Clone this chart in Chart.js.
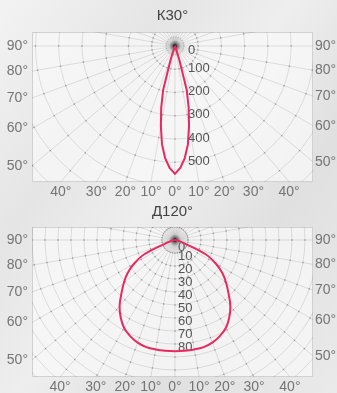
<!DOCTYPE html>
<html><head><meta charset="utf-8">
<script src="https://cdn.jsdelivr.net/npm/chart.js@4/dist/chart.umd.min.js"></script>
<style>
html,body{margin:0;padding:0;}
body{width:337px;height:393px;overflow:hidden;position:relative;
background:linear-gradient(125deg,#f3f3f3 0%,#e5e5e5 28%,#eeeeee 48%,#e0e0e0 70%,#eaeaea 100%);}
.box{position:absolute;left:0;width:337px;}
#b1{top:0;height:200px;}
#b2{top:196px;height:197px;}
canvas{display:block;}
</style></head><body>
<div class="box" id="b1"><canvas id="c1" width="337" height="200"></canvas></div>
<div class="box" id="b2"><canvas id="c2" width="337" height="197"></canvas></div>
<script>
// ---- data ----
const k30Title = 'К30°';
const k30Angles = [0, 2.5, 5, 7.5, 10, 12.5, 15, 17.5, 20, 22.5, 25, 30, 40, 50, 60, 70, 80, 90];
const k30Values = [550, 525, 484, 427, 349, 273, 196, 60, 12, 5, 3, 2, 1, 1, 0, 0, 0, 0];
const k30RingLabels = [0, 100, 200, 300, 400, 500];

const d120Title = 'Д120°';
const d120Angles = [0, 5, 10, 15, 20, 25, 30, 35, 40, 45, 50, 55, 60, 65, 70, 75, 80, 85, 90];
const d120Values = [85.5, 85.5, 85.5, 85.3, 84, 81.6, 78.2, 72.8, 66.3, 58.3, 51.4, 44.6, 36.2, 26, 8, 3, 1, 0.5, 0];
const d120RingLabels = [0, 10, 20, 30, 40, 50, 60, 70, 80];

const sideAngles = [90, 80, 70, 60, 50];
const bottomAngles = [-40, -30, -20, -10, 0, 10, 20, 30, 40];

const FONT = '"Liberation Sans", Arial, sans-serif';
const rad = d => d * Math.PI / 180;

const polarGrid = {
  id: 'polarGrid',
  beforeDatasetsDraw(chart, args, o) {
    const {ctx, chartArea: a, scales: {x, y}} = chart;
    const cx = x.getPixelForValue(0), cy = y.getPixelForValue(0);
    const kx = Math.abs(x.getPixelForValue(1) - cx), ky = Math.abs(y.getPixelForValue(1) - cy);
    ctx.save();
    ctx.fillStyle = 'rgba(250,250,250,0.72)';
    ctx.fillRect(a.left, a.top, a.right - a.left, a.bottom - a.top);
    ctx.strokeStyle = 'rgba(200,200,200,0.8)'; ctx.lineWidth = 1;
    ctx.strokeRect(a.left + 0.5, a.top + 0.5, a.right - a.left - 1, a.bottom - a.top - 1);
    ctx.beginPath(); ctx.rect(a.left, a.top, a.right - a.left, a.bottom - a.top); ctx.clip();
    ctx.strokeStyle = 'rgba(120,120,120,0.26)'; ctx.lineWidth = 0.8;
    for (let v = o.ringStep; v <= o.ringMax; v += o.ringStep) {
      ctx.beginPath(); ctx.ellipse(cx, cy, v * kx, v * ky, 0, 0, Math.PI * 2); ctx.stroke();
    }
    for (let d = 0; d < 360; d += o.rayStep) {
      const t = rad(d);
      ctx.beginPath(); ctx.moveTo(cx, cy);
      ctx.lineTo(cx + Math.sin(t) * 1000, cy + Math.cos(t) * 1000); ctx.stroke();
    }
    ctx.fillStyle = 'rgba(70,70,70,0.38)';
    for (let v = o.ringStep; v <= o.ringMax; v += o.ringStep) {
      for (let d = 0; d < 360; d += o.rayStep) {
        const t = rad(d);
        ctx.fillRect(cx + Math.sin(t) * v * kx - 0.7, cy + Math.cos(t) * v * ky - 0.7, 1.4, 1.4);
      }
    }
    // center decoration
    ctx.fillStyle = 'rgba(245,245,245,0.6)';
    ctx.beginPath(); ctx.arc(cx, cy, o.hub, 0, Math.PI * 2); ctx.fill();
    ctx.strokeStyle = 'rgba(120,120,120,0.28)'; ctx.lineWidth = 0.6;
    for (let d = 0; d < 360; d += 5) {
      const t = rad(d);
      ctx.beginPath(); ctx.moveTo(cx, cy); ctx.lineTo(cx + Math.sin(t) * o.hub, cy + Math.cos(t) * o.hub); ctx.stroke();
    }
    ctx.setLineDash([1, 1.5]); ctx.strokeStyle = 'rgba(100,100,100,0.55)'; ctx.lineWidth = 1;
    ctx.beginPath(); ctx.arc(cx, cy, o.hub, 0, Math.PI * 2); ctx.stroke();
    ctx.setLineDash([]);
    const g = ctx.createRadialGradient(cx, cy, 0, cx, cy, 6);
    g.addColorStop(0, 'rgba(0,0,0,0.6)'); g.addColorStop(1, 'rgba(0,0,0,0)');
    ctx.fillStyle = g; ctx.beginPath(); ctx.arc(cx, cy, 6, 0, Math.PI * 2); ctx.fill();
    ctx.fillStyle = '#1e1e1e'; ctx.beginPath(); ctx.arc(cx, cy, 1.8, 0, Math.PI * 2); ctx.fill();
    // intensity labels
    ctx.fillStyle = '#555'; ctx.font = '13px ' + FONT;
    ctx.textAlign = 'left'; ctx.textBaseline = 'middle';
    o.labels.forEach(v => {
      const yy = v === 0 ? cy + o.zeroDy : cy + v * ky + o.labelDy;
      ctx.fillText(String(v), cx + o.labelDx, yy);
    });
    ctx.restore();
  }
};

function curvePoints(angles, values) {
  const pts = [];
  for (let i = angles.length - 1; i >= 1; i--) {
    const t = rad(-angles[i]);
    pts.push({x: values[i] * Math.sin(t), y: -values[i] * Math.cos(t)});
  }
  for (let i = 0; i < angles.length; i++) {
    const t = rad(angles[i]);
    pts.push({x: values[i] * Math.sin(t), y: -values[i] * Math.cos(t)});
  }
  return pts;
}

function makeChart(id, title, angles, values, rng, grid, tension, titlePad) {
  const tickFont = {family: FONT, size: 14};
  const tickColor = '#747474';
  const sideTicks = (dist) => (s) => {
    s.ticks = sideAngles.map(a => ({value: -dist * Math.cos(rad(a)) / Math.sin(rad(a))}));
  };
  return new Chart(document.getElementById(id), {
    type: 'scatter',
    data: {datasets: [{
      data: curvePoints(angles, values), showLine: true, borderColor: '#e8285f', borderWidth: 2,
      pointRadius: 0, fill: false, tension: tension, xAxisID: 'x', yAxisID: 'y'
    }]},
    options: {
      responsive: false, animation: false, devicePixelRatio: 1,
      layout: {padding: 0},
      plugins: {
        legend: {display: false}, tooltip: {enabled: false},
        title: {display: true, text: title, fullSize: false, color: '#444',
          font: {family: FONT, size: 15, weight: 'normal'}, padding: titlePad},
        polarGrid: grid
      },
      scales: {
        x: {type: 'linear', position: 'bottom', min: rng.xMin, max: rng.xMax,
          grid: {display: false, drawTicks: false}, border: {display: false},
          afterBuildTicks: (s) => { s.ticks = bottomAngles.map(a => ({value: -rng.yMin * Math.tan(rad(a))})); },
          afterFit: (s) => { s.height = rng.xAxisH; },
          ticks: {autoSkip: false, maxRotation: 0, padding: 2, font: tickFont, color: tickColor,
            callback: (v, i) => Math.abs(bottomAngles[i]) + '°'}},
        y: {type: 'linear', position: 'left', min: rng.yMin, max: rng.yMax,
          grid: {display: false, drawTicks: false}, border: {display: false},
          afterBuildTicks: sideTicks(-rng.xMin),
          afterFit: (s) => { s.width = 32; },
          ticks: {autoSkip: false, padding: 4, font: tickFont, color: tickColor,
            callback: (v, i) => sideAngles[i] + '°'}},
        yR: {type: 'linear', position: 'right', min: rng.yMin, max: rng.yMax,
          grid: {display: false, drawTicks: false}, border: {display: false},
          afterBuildTicks: sideTicks(rng.xMax),
          afterFit: (s) => { s.width = 24; },
          ticks: {autoSkip: false, padding: 2, font: tickFont, color: tickColor,
            callback: (v, i) => sideAngles[i] + '°'}}
      }
    },
    plugins: [polarGrid]
  });
}

makeChart('c1', k30Title, k30Angles, k30Values,
  {xMin: -615, xMax: 594, yMin: -585, yMax: 60, xAxisH: 18},
  {ringStep: 100, ringMax: 900, rayStep: 10, hub: 9, labels: k30RingLabels, labelDx: 13, labelDy: -1, zeroDy: 4},
  0, {top: 7, bottom: 7});

makeChart('c2', d120Title, d120Angles, d120Values,
  {xMin: -110, xMax: 106.2, yMin: -105.4, yMax: 10, xAxisH: 16},
  {ringStep: 10, ringMax: 150, rayStep: 10, hub: 13, labels: d120RingLabels, labelDx: 3, labelDy: 3, zeroDy: 7},
  0.35, {top: 7, bottom: 6});
</script>
</body></html>
